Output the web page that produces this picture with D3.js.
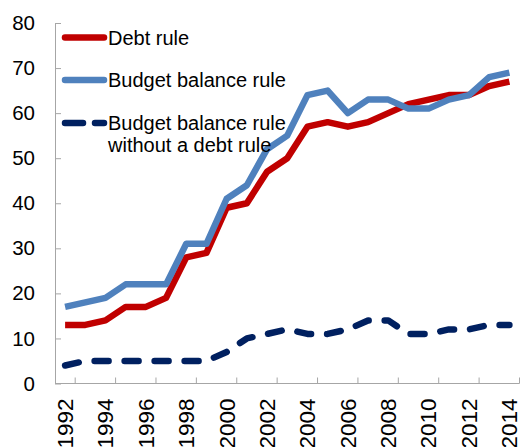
<!DOCTYPE html>
<html>
<head>
<meta charset="utf-8">
<script src="https://cdn.jsdelivr.net/npm/d3@7"></script>
<style>
  html, body { margin: 0; padding: 0; background: #fff; }
  svg { display: block; }
  text { font-family: "Liberation Sans", Arial, sans-serif; fill: #000; }
</style>
</head>
<body>
<svg id="chart" width="521" height="447"></svg>
<script>
// Years on the category axis
const years = d3.range(1992, 2015);
// Share of countries with each kind of fiscal rule (%)
const debtRule = [13, 13, 14, 17, 17, 19, 28, 29, 39, 40, 47, 50, 57, 58, 57, 58, 60, 62, 63, 64, 64, 66, 67];
const budgetRule = [17, 18, 19, 22, 22, 22, 31, 31, 41, 44, 52, 55, 64, 65, 60, 63, 63, 61, 61, 63, 64, 68, 69];
const budgetNoDebt = [4, 5, 5, 5, 5, 5, 5, 5, 7, 10, 11, 12, 11, 11, 12, 14, 14, 11, 11, 12, 12, 13, 13];
const yTicks = [0, 10, 20, 30, 40, 50, 60, 70, 80];
const xTickYears = years.filter((yr, i) => i % 2 === 0);

const seriesNames = ["Debt rule", "Budget balance rule", ["Budget balance rule", "without a debt rule"]];

const svg = d3.select("#chart");
const plotLeft = 55, plotRight = 519.5, plotTop = 23, plotBottom = 383.5;

const x = d3.scaleBand().domain(years).range([plotLeft, plotRight]).paddingInner(0).paddingOuter(0);
const y = d3.scaleLinear().domain([0, 80]).range([plotBottom, plotTop]);

const axisColor = "#A6A6A6";

// Y axis (ticks point inward)
const yAxis = svg.append("g")
  .attr("transform", `translate(${plotLeft},0)`)
  .call(d3.axisLeft(y).tickValues(yTicks).tickSizeInner(-6).tickSizeOuter(0).tickPadding(20));
yAxis.select(".domain").attr("stroke", axisColor);
yAxis.selectAll(".tick line").attr("stroke", axisColor);
yAxis.selectAll(".tick text").attr("font-size", 20.5).attr("x", -20)
  .style("font-family", "Liberation Sans, Arial, sans-serif").attr("fill", "#000");

// X axis line with inward ticks on every other category boundary
const xg = svg.append("g");
xg.append("line").attr("x1", plotLeft).attr("x2", plotRight).attr("y1", plotBottom).attr("y2", plotBottom)
  .attr("stroke", axisColor);
const boundaries = years.filter((yr, i) => i % 2 === 1).map(yr => x(yr));
xg.selectAll("line.tk").data(boundaries).join("line").attr("class", "tk")
  .attr("x1", d => d).attr("x2", d => d).attr("y1", plotBottom).attr("y2", plotBottom - 6)
  .attr("stroke", axisColor);
xg.append("line").attr("x1", plotRight).attr("x2", plotRight).attr("y1", plotBottom).attr("y2", plotBottom - 6)
  .attr("stroke", axisColor);

// Rotated year labels
xg.selectAll("text.yr").data(xTickYears).join("text").attr("class", "yr")
  .attr("transform", d => `translate(${x(d) + x.bandwidth() / 2},${plotBottom + 15}) rotate(-90)`)
  .attr("text-anchor", "end").attr("dy", "0.35em").attr("font-size", 22.5)
  .text(d => d);

// Series lines
const line = d3.line().x((d, i) => x(years[i]) + x.bandwidth() / 2).y(d => y(d));
const series = [
  { values: debtRule, color: "#C00000", dash: null },
  { values: budgetRule, color: "#4F81BD", dash: null },
  { values: budgetNoDebt, color: "#002060", dash: "14,16" }
];

// Dashed series first, then red, then blue
[series[2], series[0], series[1]].forEach(s => {
  svg.append("path").datum(s.values)
    .attr("d", line)
    .attr("fill", "none")
    .attr("stroke", s.color)
    .attr("stroke-width", 6.5)
    .attr("stroke-linejoin", "round")
    .attr("stroke-linecap", s.dash ? "round" : "butt")
    .attr("stroke-dasharray", s.dash);
});

// Legend
const legendY = [37.5, 80, 123];
const lg = svg.append("g");
series.forEach((s, i) => {
  lg.append("line")
    .attr("x1", 65).attr("x2", 104).attr("y1", legendY[i]).attr("y2", legendY[i])
    .attr("stroke", s.color).attr("stroke-width", 6.5).attr("stroke-linecap", "round")
    .attr("stroke-dasharray", s.dash ? "18,12" : null);
  const names = Array.isArray(seriesNames[i]) ? seriesNames[i] : [seriesNames[i]];
  const t = lg.append("text").attr("x", 108).attr("y", legendY[i]).attr("font-size", 20);
  names.forEach((n, j) => {
    t.append("tspan").attr("x", 108).attr("dy", j === 0 ? "0.35em" : "22").text(n);
  });
});
</script>
</body>
</html>
